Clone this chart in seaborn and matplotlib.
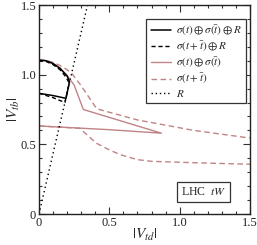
import matplotlib
matplotlib.use("Agg")
import matplotlib.pyplot as plt
import seaborn as sns
from matplotlib.ticker import MultipleLocator
from matplotlib.lines import Line2D

# ---- data ----
# black solid: sigma(t) + sigma(tbar) + R
blk_solid_x = [0.0, 0.05, 0.10, 0.15, 0.20, 0.217, 0.192, 0.10, 0.0]
blk_solid_y = [1.105, 1.100, 1.080, 1.045, 0.990, 0.950, 0.830, 0.850, 0.866]
# black dashed: sigma(t+tbar) + R
blk_dash_x = [0.0, 0.05, 0.10, 0.15, 0.19, 0.215, 0.184, 0.10, 0.0]
blk_dash_y = [1.100, 1.095, 1.072, 1.035, 0.985, 0.940, 0.800, 0.835, 0.866]
# pink solid: sigma(t) + sigma(tbar)
pk_solid_x = [0.0, 0.05, 0.10, 0.15, 0.20, 0.25, 0.315, 0.87, 0.50, 0.0]
pk_solid_y = [1.105, 1.100, 1.080, 1.045, 0.995, 0.925, 0.750, 0.580, 0.605, 0.632]
# pink dashed upper / lower: sigma(t+tbar)
pk_dash_up_x = [0.0, 0.05, 0.10, 0.15, 0.20, 0.232, 0.30, 0.36, 0.41, 0.70, 1.10, 1.50]
pk_dash_up_y = [1.105, 1.102, 1.088, 1.065, 1.035, 1.010, 0.920, 0.830, 0.755, 0.675, 0.600, 0.545]
pk_dash_lo_x = [0.0, 0.29, 0.35, 0.41, 0.50, 0.58, 0.70, 0.80, 1.10, 1.50]
pk_dash_lo_y = [0.632, 0.615, 0.560, 0.507, 0.460, 0.425, 0.390, 0.378, 0.368, 0.357]
# dotted: R
r_x = [0.0, 0.345]
r_y = [0.0, 1.5]

labels = [r"$\sigma(t)\oplus\sigma(\bar{t})\oplus R$",
          r"$\sigma(t+\bar{t})\oplus R$",
          r"$\sigma(t)\oplus\sigma(\bar{t})$",
          r"$\sigma(t+\bar{t})$",
          r"$R$"]

sns.set_style("ticks")
plt.rcParams["font.family"] = ["Liberation Serif", "DejaVu Serif"]
plt.rcParams["mathtext.fontset"] = "stix"

pink = "#c08386"
fig = plt.figure(figsize=(2.57, 2.45), dpi=100)
ax = fig.add_axes([39/257, 31/245, 211/257, 209/245])

kw = dict(ax=ax, sort=False, estimator=None, legend=False)
sns.lineplot(x=pk_dash_up_x, y=pk_dash_up_y, color=pink, lw=1.0, linestyle=(0, (4, 2.5)), **kw)
sns.lineplot(x=pk_dash_lo_x, y=pk_dash_lo_y, color=pink, lw=1.0, linestyle=(0, (4, 2.5)), **kw)
sns.lineplot(x=pk_solid_x, y=pk_solid_y, color=pink, lw=1.0, **kw)
sns.lineplot(x=blk_dash_x, y=blk_dash_y, color="black", lw=1.0, linestyle=(0, (3, 2)), **kw)
sns.lineplot(x=blk_solid_x, y=blk_solid_y, color="black", lw=1.1, **kw)
sns.lineplot(x=r_x, y=r_y, color="black", lw=1.0, linestyle=(0, (1, 2.2)), **kw)

ax.set_xlim(0, 1.5)
ax.set_ylim(0, 1.5)
ax.xaxis.set_minor_locator(MultipleLocator(0.1))
ax.yaxis.set_minor_locator(MultipleLocator(0.1))
ax.set_xticks([0, 0.5, 1.0, 1.5])
ax.set_xticklabels(["0", "0.5", "1.0", "1.5"])
ax.set_yticks([0, 0.5, 1.0, 1.5])
ax.set_yticklabels(["0", "0.5", "1.0", "1.5"])
ax.tick_params(which="both", direction="in", top=True, right=True, labelsize=9, width=0.8, pad=2, colors="#333333", labelcolor="#222222")
ax.tick_params(which="major", length=5)
ax.tick_params(which="minor", length=2.5)
for s in ax.spines.values():
    s.set_linewidth(1.0)
    s.set_color("#222222")

ax.set_xlabel(r"$|V_{td}|$", fontsize=11, labelpad=-1)
ax.set_ylabel(r"$|V_{tb}|$", fontsize=11, labelpad=-1)

handles = [Line2D([], [], color="black", lw=1.1),
           Line2D([], [], color="black", lw=1.0, linestyle=(0, (3, 2))),
           Line2D([], [], color=pink, lw=1.0),
           Line2D([], [], color=pink, lw=1.0, linestyle=(0, (4, 2.5))),
           Line2D([], [], color="black", lw=1.0, linestyle=(0, (1, 2)))]
leg = ax.legend(handles, labels, loc="upper right", bbox_to_anchor=(0.983, 0.935),
                borderaxespad=0, fontsize=8, frameon=True, fancybox=False,
                edgecolor="#333333", handlelength=1.8, handletextpad=0.5,
                labelspacing=0.12, borderpad=0.4, framealpha=1)
leg.get_frame().set_linewidth(0.9)

ax.text(1.17, 0.158, r"LHC  $tW$", fontsize=8.5, ha="center", va="center",
        bbox=dict(boxstyle="square,pad=0.35", fc="white", ec="#333333", lw=0.9))

fig.savefig("out.png", dpi=100)
